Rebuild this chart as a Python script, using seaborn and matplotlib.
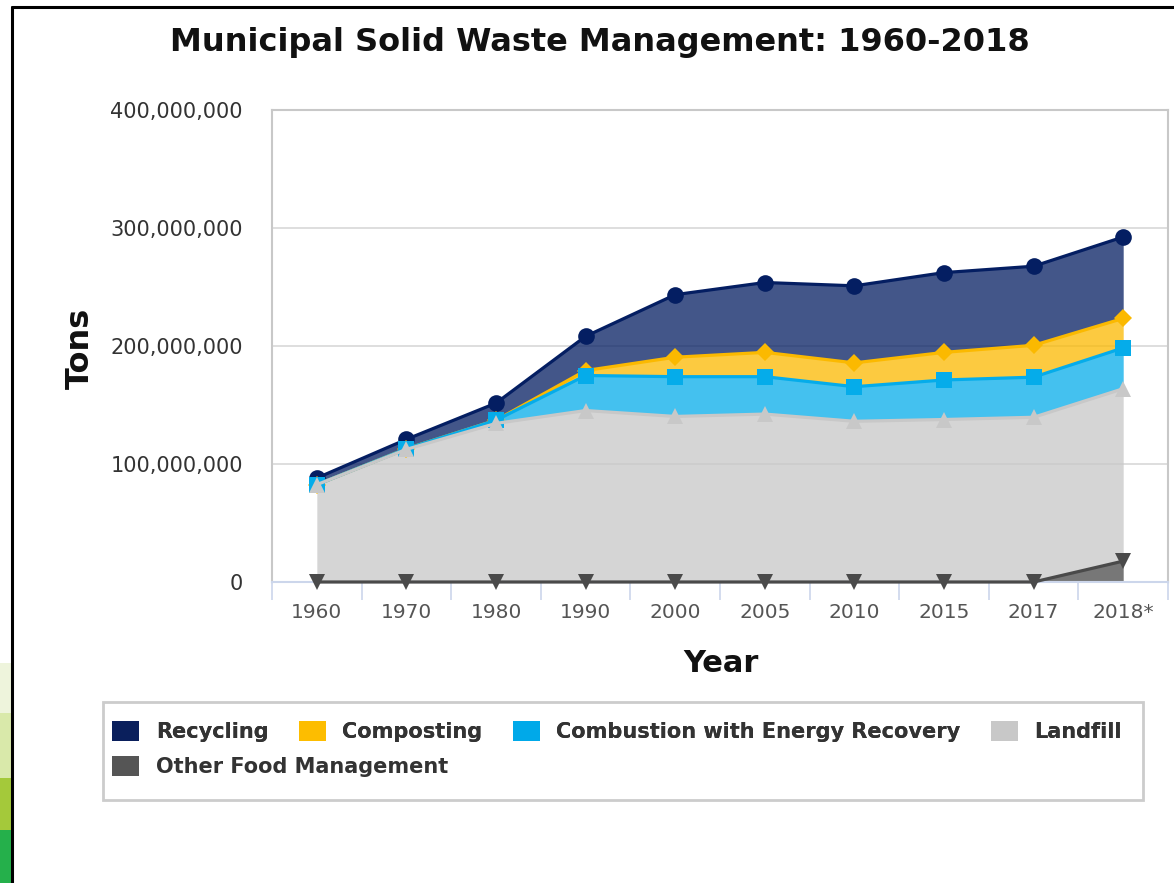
import numpy as np
import pandas as pd
import matplotlib
matplotlib.use('Agg')
import matplotlib.pyplot as plt
import seaborn as sns
from matplotlib.patches import Patch, Rectangle
from matplotlib.lines import Line2D
from matplotlib.ticker import FuncFormatter

sns.set_theme(style="white")
plt.rcParams['font.family'] = ['DejaVu Sans']

years = ['1960', '1970', '1980', '1990', '2000', '2005', '2010', '2015', '2017', '2018*']

# million tons
recycling = [5.6, 8.0, 14.5, 29.0, 53.0, 59.2, 65.3, 67.6, 67.0, 69.0]
composting = [0.0, 0.0, 0.0, 4.2, 16.5, 20.6, 20.2, 23.4, 27.0, 25.0]
combustion = [0.0, 0.5, 2.7, 29.7, 33.7, 31.7, 29.3, 33.5, 34.0, 34.6]
landfill = [82.5, 112.4, 134.4, 145.3, 140.3, 142.3, 136.2, 137.7, 139.6, 146.1]
other_food = [0.0, 0.0, 0.0, 0.0, 0.0, 0.0, 0.0, 0.0, 0.0, 17.7]

names = ['Recycling', 'Composting', 'Combustion with Energy Recovery', 'Landfill', 'Other Food Management']
colors = ['#041e62', '#fbb900', '#05acea', '#c8c8c8', '#4a4a4a']
legend_colors = ['#0a1f5c', '#fdbd00', '#00a9e9', '#c8c8c8', '#555555']
markers = ['o', 'D', 's', '^', 'v']
msizes = [12, 9, 11, 11, 11]

# stack from the bottom: other food, landfill, combustion, composting, recycling
stack_order = [other_food, landfill, combustion, composting, recycling]
x = np.arange(len(years))
bottoms = []
tops = []
base = np.zeros(len(years))
for vals in stack_order:
    bottoms.append(base.copy())
    base = base + np.array(vals) * 1e6
    tops.append(base.copy())
bottoms = bottoms[::-1]
tops = tops[::-1]

fig = plt.figure(figsize=(11.74, 8.83), dpi=100)
ax = fig.add_axes([272 / 1174, 1 - 582 / 883, 896 / 1174, 472 / 883])

for i, name in enumerate(names):
    ax.fill_between(x, bottoms[i], tops[i], color=colors[i], alpha=0.75, lw=0, zorder=2)

for i, name in enumerate(names):
    df = pd.DataFrame({'pos': x, 'tons': tops[i]})
    sns.lineplot(data=df, x='pos', y='tons', ax=ax, color=colors[i], lw=2.3,
                 marker=markers[i], markersize=msizes[i], markeredgewidth=0,
                 clip_on=False, zorder=3 + i)

ax.set_xlim(-0.5, 9.5)
ax.set_ylim(0, 4e8)
ax.set_yticks(np.arange(0, 4.01e8, 1e8))
ax.yaxis.set_major_formatter(FuncFormatter(lambda v, p: f'{v:,.0f}'))
ax.set_xticks(x)
ax.set_xticklabels(years)
ax.set_xticks(np.arange(-0.5, 10, 1), minor=True)
ax.tick_params(axis='x', which='major', length=0, pad=15, labelsize=14.5, labelcolor='#555555')
ax.tick_params(axis='x', which='minor', length=13, width=1.2, color='#ccd6eb', bottom=True)
ax.tick_params(axis='y', length=0, pad=21, labelsize=15, labelcolor='#333333')
ax.grid(axis='y', color='#d8d8d8', lw=1.2, zorder=0)
ax.set_axisbelow(True)

for side in ['left', 'top', 'right']:
    ax.spines[side].set_color('#c8c8c8')
    ax.spines[side].set_linewidth(1.5)
ax.spines['bottom'].set_color('#ccd6eb')
ax.spines['bottom'].set_linewidth(1.5)

ax.set_xlabel('Year', fontsize=22, fontweight='bold', color='#111111')
ax.xaxis.set_label_coords(0.501, -0.143)
ax.set_ylabel('Tons', fontsize=23, fontweight='bold', color='#111111')
ax.yaxis.set_label_coords(-0.197, 0.496)

fig.suptitle('Municipal Solid Waste Management: 1960-2018', x=600 / 1174, y=1 - 43 / 883,
             va='center', fontsize=23, fontweight='bold', color='#111111')

# legend: first row of four, second row with one entry, inside one frame
handles = [Patch(facecolor=legend_colors[i], edgecolor='none', label=names[i]) for i in range(5)]
leg_kw = dict(loc='upper left', frameon=False, prop={'size': 15, 'weight': 'bold'},
              labelcolor='#333333', handlelength=1.3, handleheight=1.1, handletextpad=0.8,
              columnspacing=1.45, borderpad=0, borderaxespad=0)
leg1 = fig.legend(handles=handles[:4], ncol=4, bbox_to_anchor=(112 / 1174, 1 - 721 / 883), **leg_kw)
leg2 = fig.legend(handles=handles[4:], ncol=1, bbox_to_anchor=(112 / 1174, 1 - 756 / 883), **leg_kw)
fig.add_artist(leg1)
fig.add_artist(Rectangle((103 / 1174, 1 - 800 / 883), 1040 / 1174, 98 / 883, transform=fig.transFigure,
                         facecolor='none', edgecolor='#cccccc', lw=2))

# page frame and the green strip at the left edge
fig.add_artist(Line2D([12 / 1174, 12 / 1174], [0, 1 - 7 / 883], color='black', lw=2.2))
fig.add_artist(Line2D([12 / 1174, 1], [1 - 7 / 883, 1 - 7 / 883], color='black', lw=2.2))
strip = [(663, 713, '#eef4dc'), (713, 778, '#d9e9aa'), (778, 830, '#a4c93a'), (830, 883, '#25b04b')]
for y0, y1, c in strip:
    fig.add_artist(Rectangle((0, 1 - y1 / 883), 11 / 1174, (y1 - y0) / 883,
                             transform=fig.transFigure, facecolor=c, edgecolor='none'))

fig.savefig('out.png', dpi=100)
